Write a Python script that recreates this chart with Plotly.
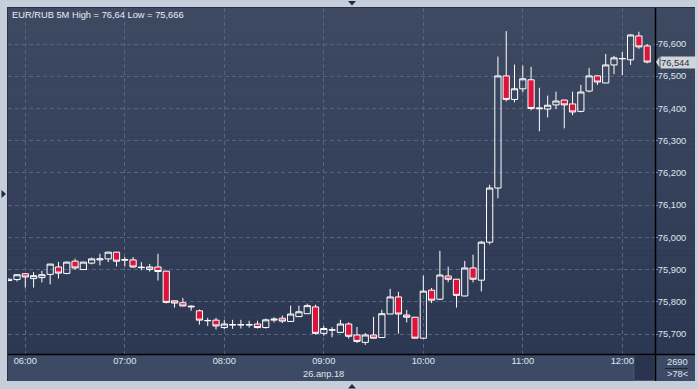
import plotly.graph_objects as go

# ---------------- data ----------------
DATE = "2018-04-26"
DATE_LABEL = "26.апр.18"
SYMBOL = "EUR/RUB 5M"
BARS_TOTAL = "2690"

TIMES = ["05:50", "05:55", "06:00", "06:05", "06:10", "06:15", "06:20", "06:25", "06:30", "06:35",
         "06:40", "06:45", "06:50", "06:55", "07:00", "07:05", "07:10", "07:15", "07:20", "07:25",
         "07:30", "07:35", "07:40", "07:45", "07:50", "07:55", "08:00", "08:05", "08:10", "08:15",
         "08:20", "08:25", "08:30", "08:35", "08:40", "08:45", "08:50", "08:55", "09:00", "09:05",
         "09:10", "09:15", "09:20", "09:25", "09:30", "09:35", "09:40", "09:45", "09:50", "09:55",
         "10:00", "10:05", "10:10", "10:15", "10:20", "10:25", "10:30", "10:35", "10:40", "10:45",
         "10:50", "10:55", "11:00", "11:05", "11:10", "11:15", "11:20", "11:25", "11:30", "11:35",
         "11:40", "11:45", "11:50", "11:55", "12:00", "12:05", "12:10", "12:15"]

OPEN = [75.870, 75.869, 75.887, 75.872, 75.875, 75.885, 75.908, 75.888, 75.926, 75.900,
        75.920, 75.930, 75.933, 75.954, 75.929, 75.930, 75.906, 75.900, 75.908, 75.895,
        75.803, 75.797, 75.784, 75.772, 75.741, 75.743, 75.720, 75.728, 75.728, 75.728,
        75.731, 75.720, 75.743, 75.749, 75.739, 75.754, 75.763, 75.784, 75.702, 75.712,
        75.705, 75.731, 75.697, 75.674, 75.697, 75.689, 75.762, 75.815, 75.759, 75.752,
        75.687, 75.836, 75.808, 75.880, 75.870, 75.818, 75.905, 75.867, 75.985, 76.153,
        76.501, 76.428, 76.461, 76.489, 76.399, 76.398, 76.411, 76.426, 76.414, 76.391,
        76.454, 76.501, 76.479, 76.535, 76.554, 76.551, 76.625, 76.594]
HIGH = [75.872, 75.886, 75.889, 75.892, 75.896, 75.918, 75.924, 75.925, 75.934, 75.924,
        75.937, 75.949, 75.955, 75.955, 75.939, 75.939, 75.923, 75.917, 75.949, 75.896,
        75.804, 75.812, 75.789, 75.776, 75.750, 75.750, 75.743, 75.744, 75.744, 75.741,
        75.741, 75.748, 75.752, 75.757, 75.788, 75.788, 75.794, 75.791, 75.725, 75.721,
        75.744, 75.736, 75.722, 75.703, 75.753, 75.775, 75.840, 75.831, 75.775, 75.753,
        75.881, 75.843, 75.958, 75.909, 75.871, 75.927, 75.946, 75.989, 76.163, 76.561,
        76.640, 76.536, 76.533, 76.529, 76.464, 76.440, 76.452, 76.427, 76.452, 76.473,
        76.526, 76.502, 76.569, 76.563, 76.575, 76.631, 76.638, 76.600]
LOW = [75.864, 75.863, 75.844, 75.844, 75.860, 75.854, 75.872, 75.885, 75.899, 75.899,
       75.916, 75.913, 75.923, 75.910, 75.910, 75.905, 75.898, 75.894, 75.866, 75.795,
       75.782, 75.786, 75.772, 75.729, 75.725, 75.714, 75.715, 75.716, 75.717, 75.720,
       75.717, 75.717, 75.736, 75.734, 75.738, 75.753, 75.763, 75.698, 75.695, 75.690,
       75.704, 75.686, 75.672, 75.666, 75.686, 75.689, 75.762, 75.701, 75.736, 75.686,
       75.686, 75.796, 75.805, 75.861, 75.782, 75.817, 75.860, 75.832, 75.978, 76.121,
       76.422, 76.419, 76.451, 76.394, 76.329, 76.372, 76.398, 76.338, 76.379, 76.388,
       76.450, 76.473, 76.479, 76.506, 76.503, 76.535, 76.585, 76.540]
CLOSE = [75.866, 75.884, 75.877, 75.881, 75.884, 75.917, 75.889, 75.923, 75.905, 75.923,
         75.933, 75.933, 75.954, 75.926, 75.931, 75.908, 75.907, 75.908, 75.894, 75.798,
         75.796, 75.787, 75.786, 75.743, 75.742, 75.725, 75.731, 75.729, 75.729, 75.729,
         75.720, 75.744, 75.746, 75.740, 75.762, 75.769, 75.788, 75.702, 75.717, 75.713,
         75.731, 75.693, 75.677, 75.697, 75.687, 75.763, 75.815, 75.762, 75.752, 75.687,
         75.833, 75.805, 75.883, 75.870, 75.820, 75.905, 75.870, 75.985, 76.153, 76.501,
         76.428, 76.461, 76.492, 76.400, 76.401, 76.410, 76.423, 76.411, 76.389, 76.451,
         76.501, 76.482, 76.535, 76.557, 76.555, 76.628, 76.591, 76.544]

X_TICK_LABELS = ["06:00", "07:00", "08:00", "09:00", "10:00", "11:00", "12:00"]
Y_TICKS = [75.7, 75.8, 75.9, 76.0, 76.1, 76.2, 76.3, 76.4, 76.5, 76.6]

# ---------------- styling ----------------
W, H = 698, 389
FONT = "Liberation Sans, Arial, sans-serif"
TXT = "#dfe6ef"
GRID = "#56657f"
FRAME = "#c5cfdb"


def px(x):
    return x / W


def py(y):
    return 1 - y / H


L, R, T, B = 8, 655, 8, 354

x_dt = [f"{DATE} {t}" for t in TIMES]

fig = go.Figure()
fig.add_trace(go.Candlestick(
    x=x_dt, open=OPEN, high=HIGH, low=LOW, close=CLOSE,
    increasing=dict(line=dict(color="#ffffff", width=1), fillcolor="rgba(0,0,0,0)"),
    decreasing=dict(line=dict(color="#ffffff", width=1), fillcolor="#dc143c"),
    whiskerwidth=0, hoverinfo="skip", showlegend=False,
))

shapes = []
# outer panel border
shapes.append(dict(type="rect", xref="paper", yref="paper", x0=px(7), x1=px(695), y0=py(381), y1=py(7),
                   fillcolor="#26304a", line=dict(width=0), layer="below"))
# vertical gradient of chart panel
top_c = (62, 74, 98)
bot_c = (44, 56, 82)
n = 70
for i in range(n):
    y0 = T + (B - T) * i / n
    y1 = T + (B - T) * (i + 1) / n
    f = (i + 0.5) / n
    c = tuple(round(top_c[k] + (bot_c[k] - top_c[k]) * f) for k in range(3))
    shapes.append(dict(type="rect", xref="paper", yref="paper", x0=px(8), x1=px(695),
                       y0=py(y1 + 0.3), y1=py(y0), fillcolor=f"rgb{c}", line=dict(width=0), layer="below"))
# x-axis band
shapes.append(dict(type="rect", xref="paper", yref="paper", x0=px(8), x1=px(695), y0=py(381), y1=py(354),
                   fillcolor="#3d4a65", line=dict(width=0), layer="below"))
# scroll box
shapes.append(dict(type="rect", xref="paper", yref="paper", x0=px(634), x1=px(655), y0=py(380.5), y1=py(355),
                   fillcolor="#29344e", line=dict(color="#4a5772", width=1), layer="below"))
# black axis lines
shapes.append(dict(type="line", xref="paper", yref="paper", x0=px(8), x1=px(695), y0=py(354.5), y1=py(354.5),
                   line=dict(color="#000000", width=1.5), layer="above"))
shapes.append(dict(type="line", xref="paper", yref="paper", x0=px(655.5), x1=px(655.5), y0=py(381), y1=py(8),
                   line=dict(color="#000000", width=1.5), layer="above"))
# underline in counter box
shapes.append(dict(type="line", xref="paper", yref="paper", x0=px(665), x1=px(688), y0=py(368.5), y1=py(368.5),
                   line=dict(color="#1c2436", width=1), layer="above"))
# frame triangles
tri = "#1d2a42"
shapes.append(dict(type="path", xref="paper", yref="paper",
                   path=f"M {px(348)},{py(1)} L {px(356)},{py(1)} L {px(352)},{py(5.5)} Z",
                   fillcolor=tri, line=dict(width=0), layer="above"))
shapes.append(dict(type="path", xref="paper", yref="paper",
                   path=f"M {px(348)},{py(388.5)} L {px(356)},{py(388.5)} L {px(352)},{py(384)} Z",
                   fillcolor=tri, line=dict(width=0), layer="above"))
shapes.append(dict(type="path", xref="paper", yref="paper",
                   path=f"M {px(1.5)},{py(190)} L {px(1.5)},{py(198)} L {px(6)},{py(194)} Z",
                   fillcolor=tri, line=dict(width=0), layer="above"))

# last-price marker pointer
last = CLOSE[-1]
shapes.append(dict(type="path", xref="paper", yref="y",
                   path=f"M {px(656)},{last} L {px(659.5)},{last + 5.5 / 322.2} L {px(659.5)},{last - 5.5 / 322.2} Z",
                   fillcolor="#d0d5dc", line=dict(width=0), layer="above"))


def fmt(v, spec):
    return format(v, spec).replace(".", ",")


hi = max(HIGH)
lo = min(LOW)
annotations = [
    dict(x=px(10), y=py(15), xref="paper", yref="paper", xanchor="left", yanchor="middle",
         text=f"{SYMBOL} High = {fmt(hi, 'g')} Low = {fmt(lo, 'g')}", showarrow=False,
         font=dict(family=FONT, size=9.3, color="#e8eef6")),
    dict(x=f"{DATE} 09:00", y=py(373.5), xref="x", yref="paper", xanchor="center", yanchor="middle",
         text=DATE_LABEL, showarrow=False, font=dict(family=FONT, size=9.3, color=TXT)),
    dict(x=px(677), y=py(362), xref="paper", yref="paper", xanchor="center", yanchor="middle",
         text=BARS_TOTAL, showarrow=False, font=dict(family=FONT, size=9.3, color=TXT)),
    dict(x=px(677), y=py(374), xref="paper", yref="paper", xanchor="center", yanchor="middle",
         text=f">{len(TIMES)}<", showarrow=False, font=dict(family=FONT, size=9.3, color=TXT)),
    dict(x=px(659.5), y=last, xref="paper", yref="y", xanchor="left", yanchor="middle",
         text=fmt(last, '.3f'), showarrow=False, bgcolor="#d0d5dc", borderpad=0,
         width=35, height=11, align="left",
         font=dict(family=FONT, size=9.3, color="#2b2f36")),
]

y_lo = 75.7 - (B - 334) / 322.2
y_hi = 76.6 + (44 - T) / 322.2

fig.update_layout(
    width=W, height=H,
    margin=dict(l=0, r=0, t=0, b=0),
    paper_bgcolor=FRAME,
    plot_bgcolor="rgba(0,0,0,0)",
    separators=", ",
    showlegend=False,
    boxgap=0.25, boxgroupgap=0,
    shapes=shapes,
    annotations=annotations,
    xaxis=dict(
        domain=[px(L), px(R)],
        type="date",
        range=[f"{DATE} 05:49:34", f"{DATE} 12:19:43"],
        tickvals=[f"{DATE} {t}" for t in X_TICK_LABELS],
        ticktext=X_TICK_LABELS,
        showgrid=True, gridcolor=GRID, griddash="4px,3px", gridwidth=1,
        zeroline=False, showline=False, ticks="",
        tickfont=dict(family=FONT, size=9.3, color=TXT),
        rangeslider=dict(visible=False),
        fixedrange=True,
    ),
    yaxis=dict(
        domain=[py(B), py(T)],
        side="right",
        range=[y_lo, y_hi],
        tickvals=Y_TICKS,
        tickformat=".3f",
        showgrid=True, gridcolor=GRID, griddash="4px,3px", gridwidth=1,
        zeroline=False, showline=False,
        ticks="outside", ticklen=2, tickcolor="#7f9cc8",
        ticklabelstandoff=-2,
        tickfont=dict(family=FONT, size=9.3, color=TXT),
        fixedrange=True,
    ),
)

fig.write_html("out.html")
